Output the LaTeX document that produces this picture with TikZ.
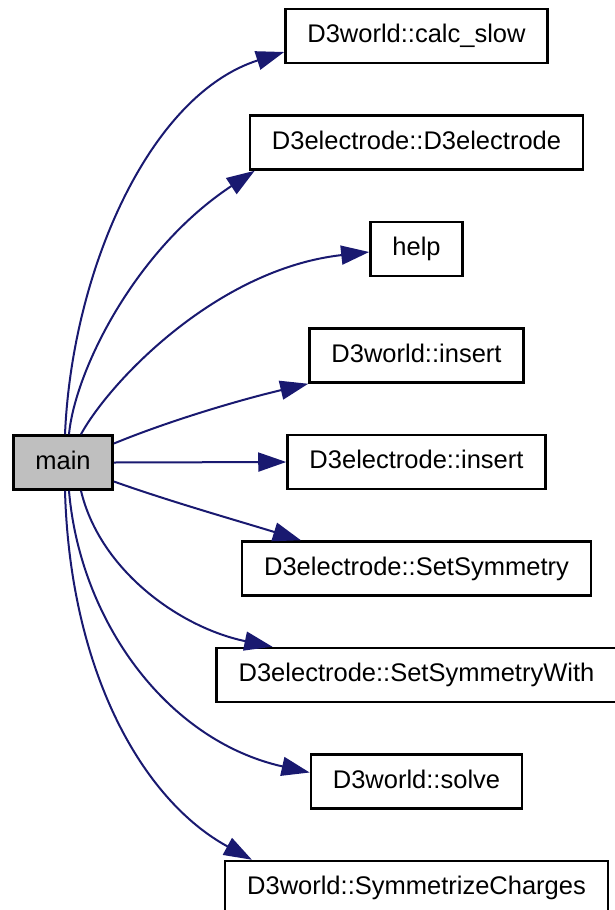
\documentclass[tikz,border=0pt]{standalone}
\usepackage{fontspec}
\setmainfont{Liberation Sans}
\usetikzlibrary{positioning,arrows.meta}
\definecolor{callgrey}{RGB}{191,191,191}
\definecolor{edgeblue}{RGB}{25,25,112}
\tikzset{
  fn/.style={draw, line width=2.5pt, minimum height=54pt, inner xsep=22pt,
    text height=18pt, text depth=5pt, font=\fontsize{25.5}{30}\selectfont},
  call/.style={draw=edgeblue, line width=2pt, -{Triangle[length=28pt,width=19pt]}, edgeblue}
}

\begin{document}
\begin{tikzpicture}[x=1pt, y=1pt, node distance=50pt]
  \useasboundingbox (0,0) rectangle (614,-910);
  \node [fn, fill=callgrey] (main) at (63,-462.5) {main};

  \node [fn] (elins) at (416.5,-462) {D3electrode::insert};
  \node [fn, above=of elins] (wins) {D3world::insert};
  \node [fn, above=of wins] (help) {help};
  \node [fn, above=of help] (ctor) {D3electrode::D3electrode};
  \node [fn, above=of ctor] (calc) {D3world::calc\_slow};

  \node [fn, below=of elins] (sym) {D3electrode::SetSymmetry};
  \node [fn, below=of sym] (symw) {D3electrode::SetSymmetryWith};
  \node [fn, below=of symw] (solve) {D3world::solve};
  \node [fn, below=of solve] (symc) {D3world::SymmetrizeCharges};

  \draw [call] ([xshift=2pt]main.north) .. controls +(7,163) and +(-135,-43) .. ([yshift=-16pt]calc.west);
  \draw [call] ([xshift=6pt]main.north) .. controls +(6,63) and +(-120,-79) .. ([xshift=6pt]ctor.south west);
  \draw [call] ([xshift=18pt]main.north) .. controls +(29,53) and +(-152,-17) .. ([yshift=-3pt]help.west);
  \draw [call] ([yshift=19pt]main.east) .. controls +(56,23) and +(-68,-16) .. (wins.south west);
  \draw [call] (main.east) -- (elins.west);
  \draw [call] ([yshift=-19pt]main.east) .. controls +(56,-20) and +(-58,18) .. ([xshift=60pt]sym.north west);
  \draw [call] ([xshift=18pt]main.south) .. controls +(19,-80) and +(-92,19) .. ([xshift=57pt]symw.north west);
  \draw [call] ([xshift=6pt]main.south) .. controls +(11,-130) and +(-143,32) .. ([yshift=9pt]solve.west);
  \draw [call] ([xshift=2pt]main.south) .. controls +(5,-180) and +(-110,60) .. ([xshift=28pt]symc.north west);
\end{tikzpicture}
\end{document}
